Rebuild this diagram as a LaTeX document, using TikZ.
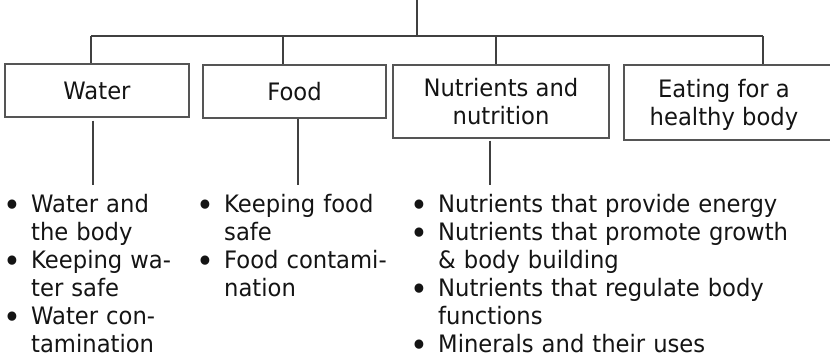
\documentclass[tikz,border=0pt]{standalone}
\usepackage{fontspec}
\setmainfont{DejaVu Sans}[FakeStretch=0.945]
\definecolor{linegray}{RGB}{64,64,64}
\definecolor{boxgray}{RGB}{85,85,85}
\definecolor{inkblack}{RGB}{20,20,20}
% one bulleted entry with a hanging indent
\newcommand\topicitem[1]{\parskip=0pt\relax\par\hangindent=27.5pt\hangafter=1\noindent
  \makebox[27.5pt][l]{\raisebox{-3.5pt}{\fontsize{32}{28}\selectfont •}}#1}
\begin{document}
\begin{tikzpicture}[x=1pt,y=1pt,
  wire/.style={draw=linegray, line width=1.3pt},
  frame/.style={draw=boxgray, line width=1.2pt, inner sep=0pt},
  topic/.style={align=center, inner sep=0pt, text depth=0pt, text=inkblack,
    font=\fontsize{24}{28}\selectfont},
  bulletlist/.style={anchor=north west, inner sep=0pt, text width=#1, align=left,
    text=inkblack, font=\fontsize{24}{28}\selectfont}]
\useasboundingbox (0,0) rectangle (830,360);

% junction points of the tree
\coordinate (root) at (417,360);
\coordinate (hub)  at (417,324);
\coordinate (jW) at (91,324);
\coordinate (jF) at (283,324);
\coordinate (jN) at (496,324);
\coordinate (jE) at (763,324);

% topic boxes
\node[frame, topic, minimum width=184pt, minimum height=53pt] (water) at (97,269.5) {Water};
\node[frame, topic, minimum width=183pt, minimum height=53pt] (food) at (294.5,268.5) {Food};
\node[frame, topic, minimum width=216pt, minimum height=73pt] (nutr) at (501,258.5) {Nutrients and\\nutrition};
\node[frame, minimum width=210pt, minimum height=75pt] (eat) at (729,257.5) {};
\node[topic] (eattext) at (724,257.5) {Eating for a\\healthy body};

% tree above the boxes
\draw[wire] (root) -- (hub);
\draw[wire] (jW) -- (jE);
\draw[wire] (jW) -- (jW |- water.north);
\draw[wire] (jF) -- (jF |- food.north);
\draw[wire] (jN) -- (jN |- nutr.north);
\draw[wire] (jE) -- (jE |- eat.north);

% stems down to the sub-topic lists
\coordinate (wEnd) at (93,175);
\coordinate (fEnd) at (298,175);
\coordinate (nEnd) at (490,175);
\draw[wire] (wEnd |- water.south) ++(0,-3) -- (wEnd);
\draw[wire] (fEnd |- food.south) -- (fEnd);
\draw[wire] (nEnd |- nutr.south) ++(0,-2) -- (nEnd);

% sub-topic lists
\node[bulletlist=200pt] (wlist) at (3.5,175.5) {%
  \topicitem{Water and\newline the body}%
  \topicitem{Keeping wa-\newline ter safe}%
  \topicitem{Water con-\newline tamination}\par};
\node[bulletlist=200pt] (flist) at (196.5,175.5) {%
  \topicitem{Keeping food\newline safe}%
  \topicitem{Food contami-\newline nation}\par};
\node[bulletlist=420pt] (nlist) at (410.5,175.5) {%
  \topicitem{Nutrients that provide energy}%
  \topicitem{Nutrients that promote growth\newline \& body building}%
  \topicitem{Nutrients that regulate body\newline functions}%
  \topicitem{Minerals and their uses}\par};
\end{tikzpicture}
\end{document}
